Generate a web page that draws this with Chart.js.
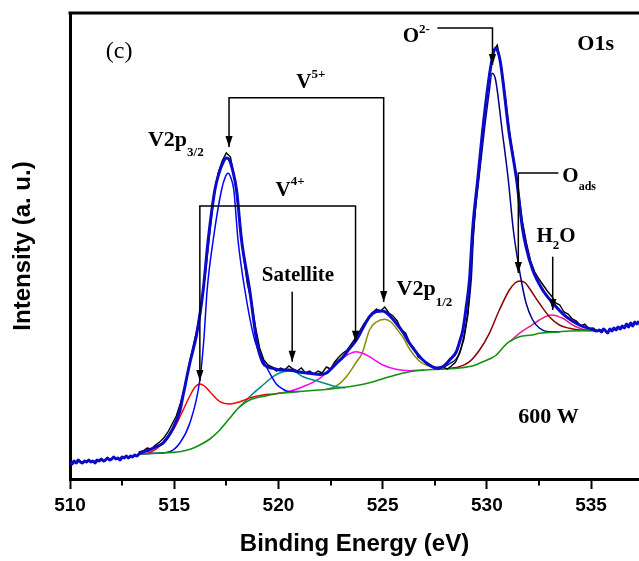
<!DOCTYPE html>
<html>
<head>
<meta charset="utf-8">
<title>V2p and O1s XPS spectrum</title>
<script src="https://cdn.jsdelivr.net/npm/chart.js@4.4.1/dist/chart.umd.min.js"></script>
<style>
  html, body { margin: 0; padding: 0; background: #ffffff; }
  canvas { display: block; }
</style>
</head>
<body>
<canvas id="xps" width="639" height="561"></canvas>
<script>
// Binding energy axis (eV)
const xTicks = [510, 515, 520, 525, 530, 535];
const xMinorTicks = [512.5, 517.5, 522.5, 527.5, 532.5];

// Measured spectrum, [binding energy, intensity (a.u.)]
const measured = [
  [513.3, 27], [513.5, 28], [513.7, 31], [513.9, 30], [514.1, 34], [514.3, 37], [514.5, 41], [514.7, 47],
  [514.9, 55], [515.1, 63], [515.3, 76], [515.5, 92], [515.7, 113], [515.9, 132], [516.1, 150], [516.3, 176],
  [516.5, 206], [516.7, 245], [516.9, 282], [517.1, 305], [517.3, 318], [517.5, 326], [517.7, 322], [517.9, 300],
  [518.1, 268], [518.3, 228], [518.5, 196], [518.7, 178], [518.9, 152], [519.1, 131], [519.3, 119], [519.5, 114],
  [519.7, 112], [519.9, 108], [520.1, 111], [520.3, 109], [520.5, 113], [520.7, 110], [520.9, 108], [521.1, 111],
  [521.3, 106], [521.5, 108], [521.7, 105], [521.9, 108], [522.1, 106], [522.3, 112], [522.5, 110], [522.7, 117],
  [522.9, 122], [523.1, 126], [523.3, 129], [523.5, 135], [523.7, 141], [523.9, 148], [524.1, 155], [524.3, 160],
  [524.5, 166], [524.7, 170], [524.9, 168], [525.1, 172], [525.3, 166], [525.5, 163], [525.7, 158], [525.9, 149],
  [526.1, 146], [526.3, 136], [526.5, 131], [526.7, 122], [526.9, 120], [527.1, 115], [527.3, 113], [527.5, 111],
  [527.7, 110], [527.9, 112], [528.1, 110], [528.3, 113], [528.5, 117], [528.7, 126], [528.9, 140], [529.1, 165],
  [529.3, 230], [529.5, 283], [529.7, 320], [529.9, 366], [530.1, 400], [530.3, 428], [530.5, 434], [530.7, 412],
  [530.9, 380], [531.1, 345], [531.3, 318], [531.5, 290], [531.7, 258], [531.9, 236], [532.1, 218], [532.3, 207],
  [532.5, 200], [532.7, 194], [532.9, 188], [533.1, 183], [533.3, 176], [533.5, 174], [533.7, 167], [533.9, 165],
  [534.1, 160], [534.3, 158], [534.5, 153], [534.7, 155], [534.9, 150], [535.1, 151], [535.3, 148], [535.5, 149]
];

// Sum of fitted components; outside the fit window it follows the recorded counts
const envelope = [
  [510.0, 17], [510.1, 15], [510.2, 18], [510.3, 16], [510.4, 19], [510.5, 17], [510.6, 16], [510.7, 18],
  [510.8, 17], [510.9, 19], [511.0, 17], [511.1, 18], [511.2, 16], [511.3, 19], [511.4, 18], [511.5, 20],
  [511.6, 18], [511.7, 19], [511.8, 21], [511.9, 19], [512.0, 20], [512.1, 22], [512.2, 20], [512.3, 21],
  [512.4, 19], [512.5, 22], [512.6, 21], [512.7, 23], [512.8, 21], [512.9, 23], [513.0, 22], [513.1, 24],
  [513.2, 23], [513.35, 25.7],
  [513.8, 29], [514.31, 34], [514.47, 36], [514.95, 51], [515.27, 68], [515.43, 84], [515.75, 116],
  [516.07, 144], [516.39, 189], [516.63, 239], [516.95, 289], [517.15, 306], [517.33, 316], [517.5, 321],
  [517.65, 319], [517.8, 309], [517.99, 289], [518.23, 239], [518.62, 189], [518.98, 135], [519.26, 116],
  [519.5, 112], [519.74, 110.7], [520.06, 109], [520.54, 109], [521.0, 107], [521.5, 105.7], [522.0, 104.5],
  [522.3, 106], [522.78, 115.7], [523.1, 122], [523.42, 130.7], [523.74, 139], [524.05, 151], [524.37, 162.3],
  [524.7, 167.5], [525.01, 168], [525.3, 164], [525.65, 155.7], [526.0, 146], [526.29, 135.7], [526.6, 127],
  [526.93, 119], [527.25, 114], [527.57, 111], [527.9, 112.5], [528.21, 119], [528.53, 127], [528.69, 137],
  [528.85, 149], [529.01, 172], [529.17, 200], [529.32, 250], [529.56, 299], [529.8, 349], [530.09, 399],
  [530.2, 414], [530.3, 425], [530.41, 430.7], [530.52, 428], [530.64, 418], [530.76, 400], [531.05, 349],
  [531.43, 299], [531.7, 252], [531.88, 232], [532.2, 209], [532.68, 189], [533.16, 176], [533.8, 162.3],
  [534.44, 154], [535.0, 150], [535.3, 148],
  [535.4, 149], [535.5, 147], [535.6, 150], [535.7, 148], [535.8, 146], [535.9, 150], [536.0, 148], [536.1, 151],
  [536.2, 149], [536.3, 152], [536.4, 150], [536.5, 153], [536.6, 151], [536.7, 155], [536.8, 152], [536.9, 156],
  [537.0, 153], [537.1, 157], [537.2, 155], [537.3, 158]
];

// Shirley background
const background = [
  [513.35, 25], [514.31, 26], [515.27, 27.3], [515.8, 30], [516.23, 34], [516.71, 40], [517.19, 49],
  [517.67, 61], [518.15, 72.3], [518.62, 79], [519.1, 82], [519.58, 84], [520.06, 85.7], [521.0, 87.5],
  [521.98, 89], [522.78, 90.7], [523.6, 93], [524.37, 96.3], [525.33, 102.3], [526.29, 107.3], [527.0, 109],
  [527.73, 109.7], [528.83, 111.3], [529.31, 113], [529.65, 115.7], [530.12, 120], [530.46, 124], [530.6, 127.3],
  [530.84, 133], [531.08, 137.3], [531.56, 142.3], [532.18, 144], [532.52, 145.7], [533.48, 147.3],
  [533.96, 148], [534.92, 148.3], [535.3, 148.5]
];

// Fitted components (each drawn on top of the background)
const v5p32 = [
  [513.35, 25], [514.31, 26], [514.79, 27.3], [515.27, 36], [515.75, 56], [516.23, 99], [516.42, 139],
  [516.58, 189], [516.87, 239], [517.27, 289], [517.45, 302], [517.59, 305.7], [517.72, 301], [517.86, 289],
  [518.06, 239], [518.39, 189], [518.86, 139], [519.26, 119], [519.58, 106], [519.9, 95], [520.2, 90],
  [520.54, 87.3], [521.0, 87.5]
];
const v4p32 = [
  [513.35, 25], [513.9, 27], [514.31, 33], [514.79, 45], [515.0, 51], [515.27, 62], [515.75, 83], [516.0, 92],
  [516.23, 95], [516.45, 93], [516.71, 87.3], [517.19, 77.3], [517.67, 75], [518.15, 77.3], [518.62, 81],
  [519.26, 84], [519.74, 85], [520.06, 85.7]
];
const satellite = [
  [518.15, 72.3], [518.62, 82.3], [519.26, 94], [519.74, 102.3], [520.06, 106], [520.45, 108], [520.75, 107.5],
  [521.18, 102.3], [521.98, 97.3], [522.78, 92.3], [523.2, 91]
];
const v4p12 = [
  [520.0, 85.7], [520.54, 87.8], [521.18, 92.3], [521.98, 100.7], [522.78, 115.7], [523.3, 124], [523.74, 127.3],
  [524.05, 125.7], [524.37, 122.3], [525.01, 114], [525.65, 109.7], [526.29, 108.3], [527.0, 109]
];
const v5p12 = [
  [522.3, 89.5], [522.78, 93], [523.26, 102.3], [523.74, 117], [524.02, 126], [524.37, 149], [524.7, 157],
  [525.09, 159.7], [525.4, 157], [525.65, 150.7], [526.0, 141], [526.29, 130], [526.8, 117.3], [527.2, 113],
  [527.57, 111], [528.0, 110]
];
const oLattice = [
  [527.6, 110], [528.2, 115], [528.7, 127], [529.0, 155], [529.25, 199], [529.37, 249], [529.61, 299],
  [529.88, 349], [530.1, 385], [530.25, 405.7], [530.42, 399], [530.73, 349], [531.03, 299], [531.27, 249],
  [531.56, 209], [531.88, 176], [532.2, 159], [532.52, 151], [533.0, 147.3], [533.5, 147.3]
];
const oAdsorbed = [
  [528.2, 110.5], [528.69, 112.3], [529.17, 117.3], [529.65, 129], [530.12, 145.7], [530.6, 169], [531.08, 189],
  [531.35, 196], [531.6, 198], [531.85, 196], [532.04, 190.7], [532.52, 175.7], [533.0, 162.3], [533.48, 154],
  [533.96, 150.7], [534.44, 149], [535.0, 148.5]
];
const oWater = [
  [531.1, 137.3], [531.56, 145.7], [532.04, 152.3], [532.52, 159], [533.08, 164], [533.64, 160.7],
  [534.12, 154], [534.6, 149.7], [535.07, 148.3]
];

// Peak assignments: arrows in (eV, intensity) coordinates, arrowhead at the last point
// (brackets carry an arrowhead at both ends)
const arrows = [
  { path: [[517.63, 332], [517.63, 381.3], [525.05, 381.3], [525.05, 177]], both: true },   // V5+
  { path: [[516.23, 98], [516.23, 273], [523.70, 273], [523.70, 137.3]], both: true },      // V4+
  { path: [[520.66, 187.3], [520.66, 117.3]] },                                              // satellite
  { path: [[527.63, 451], [530.27, 451], [530.27, 414]] },                                   // O2-
  { path: [[533.43, 306], [531.51, 306], [531.51, 206]] },                                   // O ads
  { path: [[533.16, 222.3], [533.16, 169]] }                                                 // H2O
];

const SERIF = '"Liberation Serif", "Times New Roman", Times, serif';
const SANS = '"Liberation Sans", Arial, Helvetica, sans-serif';

// Text labels: left edge / baseline in (eV, intensity); dy is a pixel shift for sub/superscripts
const labels = [
  { at: [511.72, 421], parts: [{ t: '(c)', size: 24, weight: 'normal' }] },
  { at: [513.74, 333], parts: [{ t: 'V2p', size: 22 }, { t: '3/2', size: 13, dy: 10 }] },
  { at: [519.86, 283], parts: [{ t: 'V' }, { t: '4+', size: 13, dy: -11 }] },
  { at: [520.86, 391], parts: [{ t: 'V' }, { t: '5+', size: 13, dy: -10 }] },
  { at: [519.2, 198], parts: [{ t: 'Satellite' }] },
  { at: [525.67, 184], parts: [{ t: 'V2p', size: 22 }, { t: '1/2', size: 13, dy: 11 }] },
  { at: [525.96, 437], parts: [{ t: 'O' }, { t: '2-', size: 13, dy: -9 }] },
  { at: [534.34, 429], parts: [{ t: 'O1s', size: 22 }] },
  { at: [533.62, 297], parts: [{ t: 'O' }, { t: 'ads', size: 12, dy: 8 }] },
  { at: [532.38, 237], parts: [{ t: 'H' }, { t: '2', size: 13, dy: 7 }, { t: 'O' }] },
  { at: [531.51, 56], parts: [{ t: '600 W', size: 22 }] }
];

const toXY = pts => pts.map(([x, y]) => ({ x, y }));

function curve(label, pts, color, width, order, smooth) {
  const ds = {
    label,
    data: toXY(pts),
    borderColor: color,
    backgroundColor: color,
    borderWidth: width,
    pointRadius: 0,
    fill: false,
    order
  };
  if (smooth) ds.cubicInterpolationMode = 'monotone';
  else ds.tension = 0;
  return ds;
}

function drawArrowHead(ctx, fx, fy, tx, ty) {
  const ang = Math.atan2(ty - fy, tx - fx);
  const len = 11, half = 3.6;
  ctx.beginPath();
  ctx.moveTo(tx, ty);
  ctx.lineTo(tx - len * Math.cos(ang) + half * Math.sin(ang), ty - len * Math.sin(ang) - half * Math.cos(ang));
  ctx.lineTo(tx - len * Math.cos(ang) - half * Math.sin(ang), ty - len * Math.sin(ang) + half * Math.cos(ang));
  ctx.closePath();
  ctx.fill();
}

const decorations = {
  id: 'decorations',
  afterDraw(chart) {
    const { ctx, chartArea, scales: { x, y } } = chart;
    const px = v => x.getPixelForValue(v);
    const py = v => y.getPixelForValue(v);
    ctx.save();
    ctx.strokeStyle = '#000';
    ctx.fillStyle = '#000';

    // upper frame line
    ctx.lineWidth = 3;
    ctx.beginPath();
    ctx.moveTo(chartArea.left - 1.5, chartArea.top);
    ctx.lineTo(chartArea.right, chartArea.top);
    ctx.stroke();

    // minor ticks below the energy axis
    ctx.lineWidth = 2;
    xMinorTicks.forEach(v => {
      const xp = Math.round(px(v));
      ctx.beginPath();
      ctx.moveTo(xp, chartArea.bottom + 1.5);
      ctx.lineTo(xp, chartArea.bottom + 6.5);
      ctx.stroke();
    });

    // assignment arrows
    ctx.lineWidth = 1.5;
    arrows.forEach(a => {
      const p = a.path.map(([e, i]) => [px(e), py(i)]);
      ctx.beginPath();
      ctx.moveTo(p[0][0], p[0][1]);
      for (let k = 1; k < p.length; k++) ctx.lineTo(p[k][0], p[k][1]);
      ctx.stroke();
      const n = p.length;
      drawArrowHead(ctx, p[n - 2][0], p[n - 2][1], p[n - 1][0], p[n - 1][1]);
      if (a.both) drawArrowHead(ctx, p[1][0], p[1][1], p[0][0], p[0][1]);
    });

    // labels with sub/superscripts
    ctx.textBaseline = 'alphabetic';
    ctx.textAlign = 'left';
    labels.forEach(l => {
      let cx = px(l.at[0]);
      const by = py(l.at[1]);
      l.parts.forEach(part => {
        const size = part.size || 21;
        const weight = part.weight || 'bold';
        ctx.font = `${weight} ${size}px ${SERIF}`;
        ctx.fillText(part.t, cx, by + (part.dy || 0));
        cx += ctx.measureText(part.t).width;
      });
    });
    ctx.restore();
  }
};

new Chart(document.getElementById('xps'), {
  type: 'line',
  data: {
    datasets: [
      curve('Fit envelope', envelope, '#0a0ac8', 3, 0, true),
      curve('Measured', measured, '#000000', 1.4, 1, false),
      curve('Background', background, '#119011', 1.6, 2, true),
      curve('V5+ 2p3/2', v5p32, '#0000ff', 1.5, 3, true),
      curve('V4+ 2p3/2', v4p32, '#ff0000', 1.5, 4, true),
      curve('Satellite', satellite, '#008b8b', 1.5, 5, true),
      curve('V4+ 2p1/2', v4p12, '#ff00ff', 1.5, 6, true),
      curve('V5+ 2p1/2', v5p12, '#8b8b00', 1.5, 7, true),
      curve('O2-', oLattice, '#00008b', 1.5, 8, true),
      curve('O ads', oAdsorbed, '#8b0000', 1.5, 9, true),
      curve('H2O', oWater, '#e8208c', 1.5, 10, true)
    ]
  },
  options: {
    responsive: false,
    devicePixelRatio: 1,
    animation: false,
    events: [],
    layout: { padding: { top: 13, right: 0, bottom: 0, left: 0 } },
    plugins: { legend: { display: false }, tooltip: { enabled: false }, title: { display: false } },
    scales: {
      x: {
        type: 'linear',
        position: 'bottom',
        min: 510,
        max: 537.3,
        afterBuildTicks: s => { s.ticks = xTicks.map(v => ({ value: v })); },
        afterFit: s => { s.height = 82; },
        ticks: {
          color: '#000',
          padding: 5,
          maxRotation: 0,
          autoSkip: false,
          font: { family: SANS, size: 19, weight: 'bold' }
        },
        grid: { display: true, drawOnChartArea: false, drawTicks: true, tickLength: 10, tickWidth: 2, tickColor: '#000' },
        border: { display: true, color: '#000', width: 3 },
        title: {
          display: true,
          text: 'Binding Energy (eV)',
          color: '#000',
          font: { family: SANS, size: 24, weight: 'bold' },
          padding: { top: 0, bottom: 2 }
        }
      },
      y: {
        type: 'linear',
        position: 'left',
        min: 0,
        max: 466,
        afterFit: s => { s.width = 70; },
        ticks: { display: false },
        grid: { display: false },
        border: { display: true, color: '#000', width: 3 },
        title: {
          display: true,
          text: 'Intensity (a. u.)',
          color: '#000',
          font: { family: SANS, size: 24, weight: 'bold' },
          padding: { top: 9, bottom: 0 }
        }
      }
    }
  },
  plugins: [decorations]
});
</script>
</body>
</html>
